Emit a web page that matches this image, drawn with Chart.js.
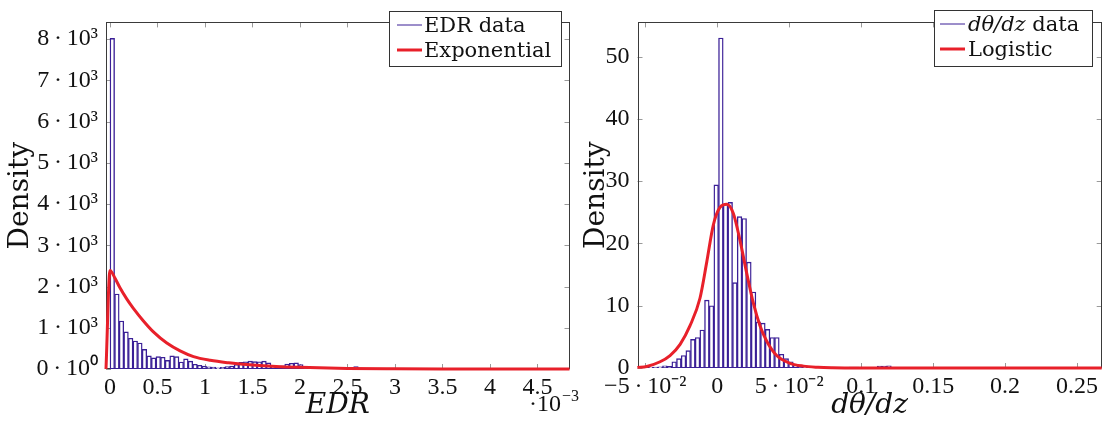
<!DOCTYPE html>
<html>
<head>
<meta charset="utf-8">
<script src="https://cdn.jsdelivr.net/npm/chart.js@4"></script>
<style>
  body { margin: 0; background: #fff; width: 1107px; height: 425px; overflow: hidden; }
  .panel { position: absolute; top: 0; height: 425px; }
  #edrPanel { left: 0; width: 580px; }
  #dthetaPanel { left: 580px; width: 527px; }
</style>
</head>
<body>
<div class="panel" id="edrPanel"><canvas id="edrChart" width="580" height="425"></canvas></div>
<div class="panel" id="dthetaPanel"><canvas id="dthetaChart" width="527" height="425"></canvas></div>
<script>
// EDR histogram (x in units of 1e-3)
const edrBinStart = 0;
const edrBinWidth = 0.0484;
const edrDensity = [
  8020, 1820, 1165, 900, 745, 680, 630, 475, 320, 270,
  300, 285, 210, 320, 300, 170, 245, 190, 115, 92,
  70, 55, 45, 30, 40, 60, 70, 110, 160, 175,
  190, 180, 175, 190, 150, 90, 70, 75, 120, 140,
  150, 110, 50, 20, 10, 8, 5, 5, 5, 5,
  5, 5, 30, 60, 20, 0
];
// exponential fit
const edrFitX = [-0.042, 0, 0.053, 0.105, 0.176, 0.246, 0.352, 0.457, 0.598, 0.738, 0.879, 1.055, 1.25, 1.5, 1.75, 2.0, 2.5, 3.0, 3.5, 4.0, 4.837];
const edrFitY = [0, 2390, 2200, 1970, 1700, 1470, 1165, 900, 630, 440, 300, 210, 150, 95, 60, 40, 15, 6, 2, 1, 0];
const edrTicksX = [0, 0.5, 1, 1.5, 2, 2.5, 3, 3.5, 4, 4.5];
const edrTickLabelsX = ['0', '0.5', '1', '1.5', '2', '2.5', '3', '3.5', '4', '4.5'];
const edrTicksY = [0, 1000, 2000, 3000, 4000, 5000, 6000, 7000, 8000];
const edrTickLabelsY = ['0\u2009·\u200910⁰', '1\u2009·\u200910³', '2\u2009·\u200910³', '3\u2009·\u200910³', '4\u2009·\u200910³',
  '5\u2009·\u200910³', '6\u2009·\u200910³', '7\u2009·\u200910³', '8\u2009·\u200910³'];

// dθ/dz histogram
const dthetaBinStart = -0.05425;
const dthetaBinWidth = 0.003244;
const dthetaDensity = [
  0.05, 0.05, 0.1, 0.15, 0.2, 0.35, 0.25, 1.0, 1.5, 2.0,
  2.8, 4.6, 4.9, 6.1, 10.9, 10.0, 29.4, 53.0, 26.3, 26.6,
  13.7, 24.3, 24.0, 17.0, 12.2, 7.4, 7.2, 6.2, 4.9, 4.9,
  2.2, 1.5, 1.0, 0.6, 0.35, 0.2, 0.12, 0.08, 0.05, 0.05,
  0.05, 0.05, 0.05, 0.05, 0.05, 0.15, 0.15, 0.05, 0.05, 0.05,
  0.05, 0.3, 0.3, 0.35, 0.05, 0.05, 0.05, 0.05, 0, 0,
  0, 0, 0, 0, 0, 0, 0, 0, 0, 0,
  0, 0, 0.1, 0.05, 0, 0, 0, 0, 0, 0,
  0, 0, 0, 0, 0, 0, 0, 0, 0, 0,
  0, 0, 0, 0, 0, 0, 0, 0, 0
];
// logistic fit
const dthetaFitX = [-0.0555, -0.049, -0.0397, -0.0328, -0.0258, -0.0189, -0.012, -0.0073, -0.0027, 0.0019, 0.0066,
  0.0112, 0.0158, 0.0205, 0.0251, 0.0297, 0.0344, 0.0413, 0.05, 0.06, 0.07, 0.08, 0.1, 0.15, 0.2671];
const dthetaFitY = [0.1, 0.25, 1.0, 2.0, 3.8, 6.8, 11.2, 17.0, 23.0, 25.8, 26.3,
  24.8, 20.5, 15.2, 10.4, 6.8, 4.3, 2.0, 0.8, 0.3, 0.12, 0.05, 0.01, 0, 0];
const dthetaTicksX = [-0.05, 0, 0.05, 0.1, 0.15, 0.2, 0.25];
const dthetaTickLabelsX = ['\u22125\u2009·\u200910⁻²', '0', '5\u2009·\u200910⁻²', '0.1', '0.15', '0.2', '0.25'];
const dthetaTicksY = [0, 10, 20, 30, 40, 50];
const dthetaTickLabelsY = ['0', '10', '20', '30', '40', '50'];

const BAR_COLOR = '#3a1f96';
const FIT_COLOR = '#e8202a';
const TICK_FONT = { family: '"Liberation Serif", serif', size: 24 };
const TEXT_FONT = '"DejaVu Serif", serif';

Chart.defaults.color = '#111';
Chart.defaults.animation = false;

const toPoints = (xs, ys) => xs.map((x, i) => ({ x, y: ys[i] }));
const toBins = (start, width, vals) => vals.map((v, i) => ({ x: start + (i + 0.5) * width, y: v }));

// frame + inward tick marks on all four sides
const frame = {
  id: 'frame',
  beforeDatasetsDraw(chart) {
    const { ctx, chartArea: a, scales: { x, y } } = chart;
    ctx.save();
    ctx.strokeStyle = '#9a9a9a';
    ctx.lineWidth = 1;
    ctx.beginPath();
    x.ticks.forEach(t => {
      const px = Math.round(x.getPixelForValue(t.value)) + 0.5;
      ctx.moveTo(px, a.bottom); ctx.lineTo(px, a.bottom - 5);
      ctx.moveTo(px, a.top); ctx.lineTo(px, a.top + 5);
    });
    y.ticks.forEach(t => {
      const py = Math.round(y.getPixelForValue(t.value)) + 0.5;
      ctx.moveTo(a.left, py); ctx.lineTo(a.left + 5, py);
      ctx.moveTo(a.right, py); ctx.lineTo(a.right - 5, py);
    });
    ctx.stroke();
    ctx.strokeStyle = '#3a3a3a';
    ctx.strokeRect(Math.round(a.left) + 0.5, Math.round(a.top) + 0.5, Math.round(a.width) - 1, Math.round(a.height) - 1);
    ctx.restore();
  }
};

// boxed legend inside the plot, upper right
const boxLegend = {
  id: 'boxLegend',
  afterDraw(chart, args, o) {
    const { ctx } = chart;
    ctx.save();
    ctx.fillStyle = '#fff';
    ctx.fillRect(o.left, o.top, o.width, o.height);
    ctx.strokeStyle = '#333';
    ctx.lineWidth = 1;
    ctx.strokeRect(o.left + 0.5, o.top + 0.5, o.width, o.height);
    chart.data.datasets.forEach((ds, i) => {
      const y = o.top + 14 + i * 25;
      ctx.strokeStyle = ds.borderColor;
      ctx.lineWidth = ds.type === 'line' ? 3 : 1;
      ctx.beginPath();
      ctx.moveTo(o.left + o.lineStart, y);
      ctx.lineTo(o.left + o.lineStart + 25, y);
      ctx.stroke();
      ctx.fillStyle = '#111';
      ctx.textBaseline = 'alphabetic';
      let tx = o.left + o.textStart;
      const words = ds.label.split(' ');
      if (ds.mathLead) {
        ctx.font = 'italic 21px ' + TEXT_FONT;
        ctx.fillText(words[0], tx, y + 7);
        tx += ctx.measureText(words[0] + ' ').width;
        words.shift();
      }
      ctx.font = '21px ' + TEXT_FONT;
      ctx.fillText(words.join(' '), tx, y + 7);
    });
    ctx.restore();
  }
};

// axis multiplier written under the x tick labels
const multiplier = {
  id: 'multiplier',
  afterDraw(chart, args, o) {
    if (!o.text) return;
    const { ctx } = chart;
    ctx.save();
    ctx.fillStyle = '#111';
    ctx.font = '24px "Liberation Serif", serif';
    ctx.fillText(o.text, o.x, o.y);
    const w = ctx.measureText(o.text).width;
    ctx.font = '16px "Liberation Serif", serif';
    ctx.fillText(o.exp, o.x + w + 1, o.y - 10);
    ctx.restore();
  }
};

function axisX(min, max, ticks, labels, title, height) {
  return {
    type: 'linear', min, max, offset: false,
    afterBuildTicks: s => { s.ticks = ticks.map(v => ({ value: v })); },
    afterFit: s => { s.height = height; },
    grid: { display: false, drawTicks: false, offset: false },
    border: { display: false },
    ticks: { font: TICK_FONT, padding: 4, maxRotation: 0, autoSkip: false, callback: (v, i) => labels[i] },
    title: { display: true, text: title, font: { family: TEXT_FONT, size: 28, style: 'italic' }, padding: { bottom: 2 } }
  };
}

function axisY(max, ticks, labels, width, titlePad) {
  return {
    min: 0, max,
    afterBuildTicks: s => { s.ticks = ticks.map(v => ({ value: v })); },
    afterFit: s => { s.width = width; },
    grid: { display: false, drawTicks: false },
    border: { display: false },
    ticks: { font: TICK_FONT, padding: 8, callback: (v, i) => labels[i] },
    title: { display: true, text: 'Density', font: { family: TEXT_FONT, size: 28 }, padding: { top: titlePad } }
  };
}

function barSet(label, data, extra) {
  return Object.assign({
    type: 'bar', label, data, order: 1,
    backgroundColor: '#fff', borderColor: BAR_COLOR, borderWidth: 1.4, borderSkipped: false,
    barPercentage: 1, categoryPercentage: 1, grouped: false
  }, extra);
}

function fitSet(label, data) {
  return {
    type: 'line', label, data, order: 0,
    borderColor: FIT_COLOR, borderWidth: 3, pointRadius: 0,
    cubicInterpolationMode: 'monotone', clip: 4
  };
}

new Chart(document.getElementById('edrChart'), {
  type: 'bar',
  data: {
    datasets: [
      barSet('EDR data', toBins(edrBinStart, edrBinWidth, edrDensity)),
      fitSet('Exponential', toPoints(edrFitX, edrFitY))
    ]
  },
  options: {
    responsive: false,
    layout: { padding: { top: 3, right: 10.5, left: 0, bottom: 0 } },
    scales: {
      x: axisX(-0.042, 4.837, edrTicksX, edrTickLabelsX, 'EDR', 56),
      y: axisY(8406, edrTicksY, edrTickLabelsY, 106, 4)
    },
    plugins: {
      legend: { display: false },
      tooltip: { enabled: false },
      boxLegend: { left: 389, top: 11, width: 172, height: 55, lineStart: 8, textStart: 35 },
      multiplier: { text: '·10', exp: '\u22123', x: 529, y: 411 }
    }
  },
  plugins: [frame, boxLegend, multiplier]
});

new Chart(document.getElementById('dthetaChart'), {
  type: 'bar',
  data: {
    datasets: [
      barSet('dθ/dz data', toBins(dthetaBinStart, dthetaBinWidth, dthetaDensity), { mathLead: true }),
      fitSet('Logistic', toPoints(dthetaFitX, dthetaFitY))
    ]
  },
  options: {
    responsive: false,
    layout: { padding: { top: 3, right: 5.3, left: 0, bottom: 0 } },
    scales: {
      x: axisX(-0.0554, 0.2671, dthetaTicksX, dthetaTickLabelsX, 'dθ/dz', 57),
      y: axisY(55.5, dthetaTicksY, dthetaTickLabelsY, 57.5, 0)
    },
    plugins: {
      legend: { display: false },
      tooltip: { enabled: false },
      boxLegend: { left: 354, top: 10, width: 158, height: 56, lineStart: 6, textStart: 34 },
      multiplier: {}
    }
  },
  plugins: [frame, boxLegend, multiplier]
});
</script>
</body>
</html>
